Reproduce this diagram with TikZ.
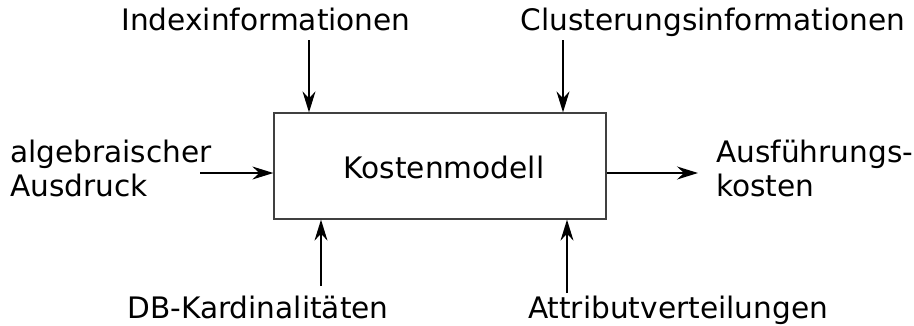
\documentclass[tikz,border=0pt]{standalone}
\usepackage{fontspec}
\setmainfont{DejaVu Sans}
\usetikzlibrary{arrows.meta}
\begin{document}
\begin{tikzpicture}[x=1pt,y=-1pt,
  lbl/.style={font=\fontsize{29.6}{34}\selectfont,inner sep=0pt,anchor=base},
  lbll/.style={lbl,anchor=base west,align=left},
  conn/.style={line width=1.3pt,-{Stealth[length=21pt,width=13pt,inset=7pt]}}]
\useasboundingbox (0,0) rectangle (914,325);
\node[draw=black!75,line width=1.3pt,minimum width=332pt,minimum height=106pt,inner sep=0pt] (box) at (440,166) {};
\node[lbl] (km) at (444,178) {Kostenmodell};
\node[lbl] (idx) at (266,30) {Indexinformationen};
\node[lbl] (clu) at (713,30) {Clusterungsinformationen};
\node[lbl] (db) at (258,318) {DB-Kardinalitäten};
\node[lbl] (att) at (678,318) {Attributverteilungen};
\node[lbll] (alg) at (10,162) {algebraischer};
\node[lbll] (aus) at (10,196) {Ausdruck};
\node[lbll] (af) at (716,162) {Ausführungs-};
\node[lbll] (ko) at (716,196) {kosten};
\coordinate (a1) at (309,40);
\coordinate (a2) at (563,40);
\coordinate (a3) at (200,173);
\coordinate (a4) at (321,286);
\coordinate (a5) at (567,293);
\draw[conn] (a1) -- (a1 |- box.north);
\draw[conn] (a2) -- (a2 |- box.north);
\draw[conn] (a3) -- (a3 -| box.west);
\draw[conn] (a4) -- (a4 |- box.south);
\draw[conn] (a5) -- (a5 |- box.south);
\coordinate (a6) at (698,173);
\draw[conn] (a6 -| box.east) -- (a6);
\end{tikzpicture}
\end{document}
